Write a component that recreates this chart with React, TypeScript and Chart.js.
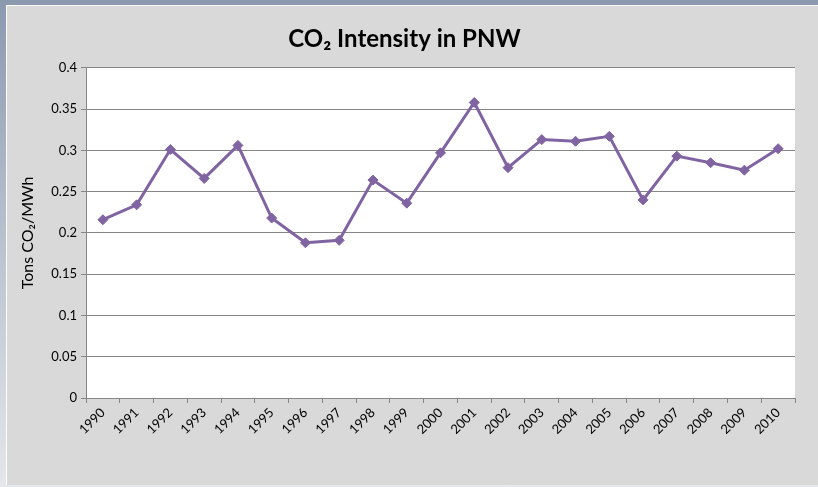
import React, { useEffect, useRef } from "react";
import { Chart, registerables } from "chart.js";

Chart.register(...registerables);

const years = [
  "1990", "1991", "1992", "1993", "1994", "1995", "1996", "1997", "1998", "1999",
  "2000", "2001", "2002", "2003", "2004", "2005", "2006", "2007", "2008", "2009", "2010",
];
const intensity = [
  0.216, 0.234, 0.301, 0.266, 0.306, 0.218, 0.188, 0.191, 0.264, 0.236,
  0.297, 0.358, 0.279, 0.313, 0.311, 0.317, 0.24, 0.293, 0.285, 0.276, 0.302,
];
const yMin = 0;
const yMax = 0.4;
const yStep = 0.05;
const titleText = "CO\u2082 Intensity in PNW";
const yTitleText = "Tons CO\u2082/MWh";

const FONT = "Lato, 'Open Sans', 'Noto Sans', sans-serif";

const plotBg = {
  id: "plotBg",
  beforeDraw(chart: any) {
    const { ctx, chartArea } = chart;
    ctx.save();
    ctx.fillStyle = "#ffffff";
    ctx.fillRect(chartArea.left, chartArea.top, chartArea.right - chartArea.left, chartArea.bottom - chartArea.top);
    ctx.restore();
  },
};

export default function App() {
  const ref = useRef<HTMLCanvasElement>(null);
  useEffect(() => {
    if (!ref.current) return;
    const chart = new Chart(ref.current, {
      type: "line",
      data: {
        labels: years,
        datasets: [
          {
            data: intensity,
            borderColor: "#8064a2",
            backgroundColor: "#8064a2",
            borderWidth: 3,
            pointStyle: "rectRot",
            pointRadius: 5,
            pointHoverRadius: 5,
            pointBorderWidth: 1,
            tension: 0,
          },
        ],
      },
      options: {
        animation: false,
        responsive: false,
        devicePixelRatio: 1,
        layout: { padding: { left: 14, right: 23, top: 0, bottom: 0 } },
        plugins: {
          legend: { display: false },
          tooltip: { enabled: false },
          title: {
            display: true,
            text: titleText,
            color: "#000000",
            font: { family: FONT, size: 24, weight: "bold" },
            padding: { top: 25, bottom: 14 },
          },
        },
        scales: {
          x: {
            type: "category",
            offset: true,
            grid: {
              offset: true,
              drawOnChartArea: false,
              drawTicks: true,
              tickLength: 5,
              color: "#868686",
            },
            border: { color: "#868686", width: 1 },
            ticks: {
              color: "#000000",
              font: { family: FONT, size: 13 },
              maxRotation: 45,
              minRotation: 45,
              autoSkip: false,
              padding: 2,
            },
            afterFit: (scale: any) => {
              scale.height = 89;
            },
          },
          y: {
            min: yMin,
            max: yMax,
            grid: { color: "#868686", tickLength: 5, lineWidth: 1 },
            border: { color: "#868686", width: 1 },
            ticks: {
              stepSize: yStep,
              color: "#000000",
              font: { family: FONT, size: 13 },
              padding: 4,
              callback: (v: any) => String(Math.round(Number(v) * 100) / 100),
            },
            title: {
              display: true,
              text: yTitleText,
              color: "#000000",
              font: { family: FONT, size: 16 },
              padding: { top: 4, bottom: 4 },
            },
            afterFit: (scale: any) => {
              scale.width = 72;
            },
          },
        },
      },
      plugins: [plotBg],
    });
    return () => chart.destroy();
  }, []);

  return (
    <div
      style={{
        position: "fixed",
        left: 0,
        top: 0,
        width: 818,
        height: 487,
        background: "linear-gradient(to bottom, #8b99af 0%, #b9c2cf 50%, #e4e7eb 100%)",
        overflow: "hidden",
      }}
    >
      <div
        style={{
          position: "absolute",
          left: 6,
          top: 5,
          right: 0,
          bottom: 2,
          background: "#d9d9d9",
          borderLeft: "1px solid #ffffff",
          borderTop: "1px solid #ffffff",
        }}
      />
      <canvas ref={ref} width={818} height={487} style={{ position: "absolute", left: 0, top: 0 }} />
    </div>
  );
}
